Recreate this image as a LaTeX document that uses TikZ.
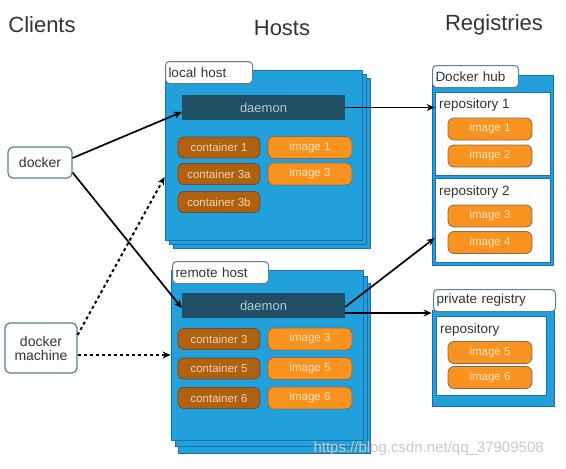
\documentclass[tikz,border=0pt]{standalone}
\usepackage{fontspec}
\setmainfont{Liberation Sans}
\usepackage{xcolor}
\usetikzlibrary{arrows.meta}
\definecolor{hostblue}{HTML}{21A0DB}
\definecolor{hostedge}{HTML}{1B6FA8}
\definecolor{daemondark}{HTML}{1F4E65}
\definecolor{daemontext}{HTML}{B8CAD3}
\definecolor{contbrown}{HTML}{B0610F}
\definecolor{contedge}{HTML}{6E4A2A}
\definecolor{conttext}{HTML}{F0D6B8}
\definecolor{imgorange}{HTML}{F7931E}
\definecolor{imgedge}{HTML}{8A6A50}
\definecolor{imgtext}{HTML}{FDE3C4}
\definecolor{tabedge}{HTML}{5B7E99}
\definecolor{labeltext}{HTML}{333333}
\definecolor{marktext}{HTML}{C8C8C8}
\tikzset{
  hostbox/.style={fill=hostblue,draw=hostedge,line width=0.8pt,inner sep=0pt},
  tabbox/.style={draw=tabedge,fill=white,rounded corners=4pt,line width=1pt,
    anchor=north west,inner xsep=3pt,minimum height=22pt,align=left,
    font=\fontsize{13.5}{15}\selectfont,text=labeltext},
  daemonbar/.style={fill=daemondark,text=daemontext,minimum width=163pt,
    minimum height=25pt,font=\fontsize{13}{15}\selectfont},
  cont/.style={fill=contbrown,draw=contedge,rounded corners=6pt,text=conttext,
    minimum width=82pt,minimum height=21pt,inner sep=0pt,line width=0.8pt,
    font=\fontsize{11.5}{13}\selectfont},
  img/.style={fill=imgorange,draw=imgedge,rounded corners=6pt,text=imgtext,
    minimum width=84pt,minimum height=22pt,inner sep=0pt,line width=0.8pt,
    font=\fontsize{11.5}{13}\selectfont},
  repobox/.style={fill=white,draw=hostedge,line width=0.6pt,inner sep=0pt},
  repolabel/.style={anchor=west,inner sep=0pt,text=labeltext,
    font=\fontsize{13.5}{15}\selectfont},
  client/.style={draw=tabedge,fill=white,rounded corners=5pt,line width=1.2pt,
    text=labeltext,align=center,inner sep=0pt,font=\fontsize{14}{16}\selectfont},
  heading/.style={text=labeltext,font=\fontsize{22}{24}\selectfont},
  arr/.style={-{Stealth[length=8pt,width=7pt]},line width=1.7pt},
  dasharr/.style={arr,line width=2pt,dash pattern=on 3pt off 3pt},
}
\begin{document}
\begin{tikzpicture}[x=1pt,y=-1pt]
  \useasboundingbox (0,0) rectangle (566,469);
  % headings
  \node[heading] (clients) at (42,25) {Clients};
  \node[heading] (hosts) at (282,28) {Hosts};
  \node[heading] (registries) at (494,25) {Registries};

  % local host
  \foreach \d in {8,4}
    \draw[hostbox] (165+\d,70+\d) rectangle (362+\d,240+\d);
  \node[hostbox,minimum width=197pt,minimum height=170pt] (lhost) at (263.5,155) {};
  \node[tabbox,text width=81pt] (ltab) at (165,61) {local host};
  \node[daemonbar] (ldaemon) at (263.5,107.5) {daemon};
  \node[cont] (lc1) at (219,147.5) {container 1};
  \node[img] (li1) at (310,147.5) {image 1};
  \node[cont] (lc3a) at (219,174) {container 3a};
  \node[img] (li3) at (310,174) {image 3};
  \node[cont] (lc3b) at (219,202) {container 3b};

  % remote host
  \draw[hostbox] (178,283) rectangle (370,453);
  \draw[hostbox] (175,276) rectangle (367,446);
  \node[hostbox,minimum width=192pt,minimum height=170pt] (rhost) at (267,355) {};
  \node[tabbox,text width=90pt] (rtab) at (172,261) {remote host};
  \node[daemonbar] (rdaemon) at (263.5,305.5) {daemon};
  \node[cont] (rc3) at (219,339) {container 3};
  \node[img] (ri3) at (310,339) {image 3};
  \node[cont] (rc5) at (219,368.5) {container 5};
  \node[img] (ri5) at (310,368.5) {image 5};
  \node[cont] (rc6) at (219,398) {container 6};
  \node[img] (ri6) at (310,398) {image 6};

  % docker hub
  \node[hostbox,minimum width=121pt,minimum height=190pt] (hub) at (492.5,170) {};
  \node[tabbox,text width=80pt] (hubtab) at (432,65) {Docker hub};
  \node[repobox,minimum width=115pt,minimum height=83pt] (repo1) at (492.5,133.5) {};
  \node[repolabel] (repo1lbl) at (439,105) {repository 1};
  \node[img] (hi1) at (490,129) {image 1};
  \node[img] (hi2) at (490,156) {image 2};
  \node[repobox,minimum width=115pt,minimum height=84pt] (repo2) at (492.5,220) {};
  \node[repolabel] (repo2lbl) at (439,192) {repository 2};
  \node[img] (hi3) at (490,216) {image 3};
  \node[img] (hi4) at (490,242.5) {image 4};

  % private registry
  \node[hostbox,minimum width=122pt,minimum height=96pt] (priv) at (493,358) {};
  \node[tabbox,text width=116pt] (privtab) at (433,289) {private registry};
  \node[repobox,minimum width=110pt,minimum height=79pt] (repo3) at (491,355.5) {};
  \node[repolabel] (repo3lbl) at (440,330) {repository};
  \node[img] (pi5) at (490,352.5) {image 5};
  \node[img] (pi6) at (490,377.5) {image 6};

  % clients
  \node[client,minimum width=64pt,minimum height=31pt] (docker) at (40,162.5) {docker};
  \node[client,minimum width=72pt,minimum height=50pt] (machine) at (41,348) {docker\\[-2pt]machine};

  % connectors
  \draw[arr] ([yshift=4.5pt]docker.east) -- ([yshift=-4.5pt]ldaemon.west);
  \draw[arr] ([yshift=-10pt]docker.east) -- ([yshift=-2.5pt]rdaemon.west);
  \draw[dasharr] ([yshift=13pt]machine.east) -- ([yshift=-22pt]lhost.west);
  \draw[dasharr] ([yshift=-7pt]machine.east) -- (rhost.west);
  \draw[arr] (ldaemon.east) -- (ldaemon.east -| repo1.west);
  \draw[arr] ([yshift=-1.5pt]rdaemon.east) -- ([yshift=-18pt]repo2.west);
  \draw[arr] ([yshift=-7.5pt]rdaemon.east) -- ([yshift=-7.5pt]rdaemon.east -| priv.west);

  % watermark
  \node[text=marktext,font=\fontsize{15}{17}\selectfont,anchor=west] (mark) at (310,449) {https://blog.csdn.net/qq\_37909508};
\end{tikzpicture}
\end{document}
